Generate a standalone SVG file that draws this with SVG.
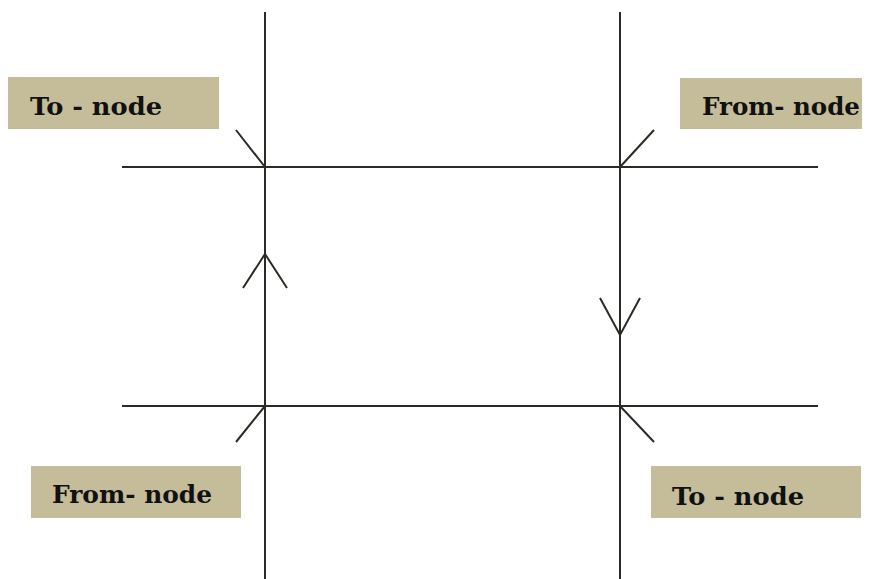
<svg xmlns="http://www.w3.org/2000/svg" width="878" height="579" viewBox="0 0 878 579">
<style>
.box{fill:#c5bd99}
.lbl{font-family:"DejaVu Serif","Liberation Serif",serif;font-weight:bold;font-size:25px;fill:#111}
.ln{stroke:#2b2b25;stroke-width:2;fill:none}
</style>
<rect width="878" height="579" fill="#fff"/>
<g id="connectors">
<line class="ln" x1="265" y1="12" x2="265" y2="579"/>
<line class="ln" x1="620" y1="12" x2="620" y2="579"/>
<line class="ln" x1="122" y1="167" x2="818" y2="167"/>
<line class="ln" x1="122" y1="406" x2="818" y2="406"/>
<line class="ln" x1="236" y1="130" x2="265" y2="167"/>
<line class="ln" x1="654" y1="130" x2="620" y2="167"/>
<line class="ln" x1="265" y1="406" x2="236" y2="442"/>
<line class="ln" x1="620" y1="406" x2="654" y2="442"/>
<polyline class="ln" points="243,288 265,254 287,288"/>
<polyline class="ln" points="600,298 620,335 640,298"/>
</g>
<g id="to-node-top">
<rect class="box" x="8" y="77" width="211" height="52"/>
<text class="lbl" x="30" y="115" textLength="132" lengthAdjust="spacingAndGlyphs">To - node</text>
</g>
<g id="from-node-top">
<rect class="box" x="680" y="78" width="182" height="51"/>
<text class="lbl" x="702" y="115" textLength="158" lengthAdjust="spacingAndGlyphs">From- node</text>
</g>
<g id="from-node-bottom">
<rect class="box" x="31" y="466" width="210" height="52"/>
<text class="lbl" x="52" y="503" textLength="160" lengthAdjust="spacingAndGlyphs">From- node</text>
</g>
<g id="to-node-bottom">
<rect class="box" x="651" y="466" width="210" height="52"/>
<text class="lbl" x="672" y="505" textLength="132" lengthAdjust="spacingAndGlyphs">To - node</text>
</g>
</svg>
